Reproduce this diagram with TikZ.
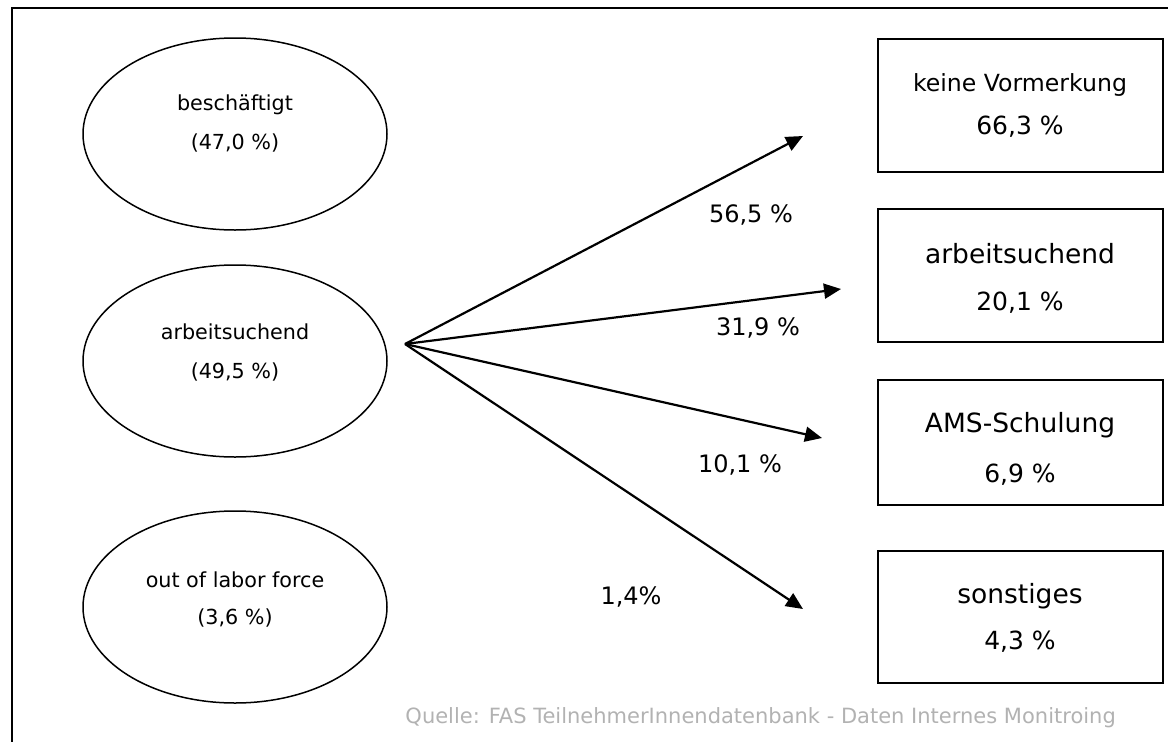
\documentclass[tikz,border=0pt]{standalone}
\usepackage{fontspec}
\setmainfont{DejaVu Sans}
\usetikzlibrary{shapes.geometric,arrows.meta}
\begin{document}
\begin{tikzpicture}[x=1pt,y=-1pt,
  state/.style={draw,ellipse,line width=1.5pt,minimum width=304pt,minimum height=192pt,inner sep=0pt},
  statetext/.style={font=\fontsize{20.7}{24}\selectfont,inner sep=0pt},
  outcome/.style={draw,rectangle,line width=2pt,minimum width=285pt,inner sep=0pt},
  outname/.style={font=\fontsize{26.5}{30}\selectfont,inner sep=0pt},
  outvalue/.style={font=\fontsize{25}{30}\selectfont,inner sep=0pt},
  flow/.style={line width=2.2pt,-{Triangle[length=17pt,width=15pt]}},
  share/.style={font=\fontsize{24}{28}\selectfont,inner sep=0pt},
  source/.style={font=\fontsize{21}{24}\selectfont,text=black!30,inner sep=0pt}]
\useasboundingbox (0,0) rectangle (1168,742);

% outer frame (runs off the right and bottom edge)
\draw[line width=1.6pt] (12,760) -- (12,8) -- (1180,8);

% starting states
\node[state] (employed) at (235,134) {};
\node[statetext] (employedName) at (235,105) {beschäftigt};
\node[statetext] (employedShare) at (235,143) {(47,0 \%)};

\node[state] (seeking) at (235,361) {};
\node[statetext] (seekingName) at (235,332) {arbeitsuchend};
\node[statetext] (seekingShare) at (235,372) {(49,5 \%)};

\node[state] (olf) at (235,607) {};
\node[statetext] (olfName) at (235,580) {out of labor force};
\node[statetext] (olfShare) at (235,618) {(3,6 \%)};

% outcome boxes
\node[outcome,minimum height=133pt] (none) at (1020.5,105.5) {};
\node[outname,font=\fontsize{23.6}{28}\selectfont] (noneName) at (1020,85) {keine Vormerkung};
\node[outvalue] (noneValue) at (1020,127) {66,3 \%};

\node[outcome,minimum height=133pt] (search) at (1020.5,275.5) {};
\node[outname] (searchName) at (1020,254) {arbeitsuchend};
\node[outvalue] (searchValue) at (1020,303) {20,1 \%};

\node[outcome,minimum height=125pt] (ams) at (1020.5,442.5) {};
\node[outname] (amsName) at (1020,425) {AMS-Schulung};
\node[outvalue] (amsValue) at (1020,475) {6,9 \%};

\node[outcome,minimum height=132pt] (other) at (1020.5,617) {};
\node[outname] (otherName) at (1020,596) {sonstiges};
\node[outvalue] (otherValue) at (1020,642) {4,3 \%};

% transitions out of job seeking
\coordinate (fan) at (405,344);
\coordinate (toNone) at (803,136);
\coordinate (toSearch) at (841,289);
\coordinate (toAms) at (822,438);
\coordinate (toOther) at (803,609);

\draw[flow] (fan) -- (toNone);
\draw[flow] (fan) -- (toSearch);
\draw[flow] (fan) -- (toAms);
\draw[flow] (fan) -- (toOther);

\node[share] (pNone) at (751,215) {56,5 \%};
\node[share] (pSearch) at (758,328) {31,9 \%};
\node[share] (pAms) at (740,465) {10,1 \%};
\node[share] (pOther) at (631,597) {1,4\%};

% data source
\node[source,anchor=east] (src) at (1116,718) {Quelle: FAS TeilnehmerInnendatenbank - Daten Internes Monitroing};
\end{tikzpicture}
\end{document}
